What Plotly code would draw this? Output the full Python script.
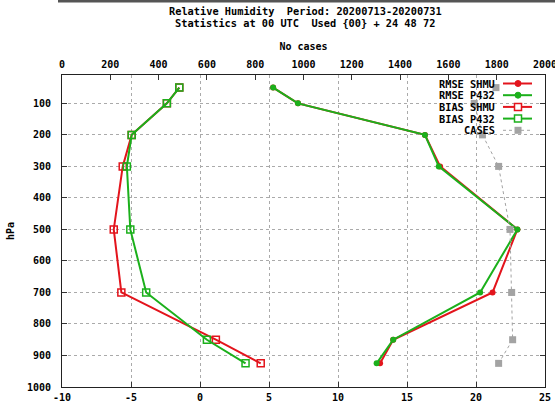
import plotly.graph_objects as go

# ---- data ----
levels = [50, 100, 200, 300, 500, 700, 850, 925]
rmse_shmu = [5.3, 7.1, 16.3, 17.4, 23.0, 21.2, 14.0, 13.05]
rmse_p432 = [5.3, 7.1, 16.3, 17.3, 23.0, 20.3, 14.0, 12.8]
bias_shmu = [-1.5, -2.4, -4.95, -5.6, -6.25, -5.7, 1.15, 4.4]
bias_p432 = [-1.5, -2.4, -4.95, -5.3, -5.05, -3.9, 0.5, 3.3]
cases = [1797, 1707, 1741, 1808, 1855, 1862, 1866, 1808]

x_ticks = [-10, -5, 0, 5, 10, 15, 20, 25]
x_ticktext = ["-10", "-5", "0", "5", "10", "15", "20", "25"]
x2_ticks = [0, 200, 400, 600, 800, 1000, 1200, 1400, 1600, 1800, 2000]
y_ticks = [100, 200, 300, 400, 500, 600, 700, 800, 900, 1000]

legend_names = ["RMSE SHMU", "RMSE P432", "BIAS SHMU", "BIAS P432", "CASES"]

RED = "#e3141c"
GREEN = "#1bb01b"
GRAY = "#a3a3a3"
FONT = "DejaVu Sans Mono"

W, H = 555, 402
L, R, T, B = 62, 10, 75, 15
PW, PH = W - L - R, H - T - B


def px(x):
    return (x - L) / PW


def py(y):
    return (H - B - y) / PH


fig = go.Figure()
fig.add_trace(go.Scatter(x=rmse_shmu, y=levels, mode="lines+markers", name=legend_names[0],
                         line=dict(color=RED, width=2), marker=dict(symbol="circle", size=6, color=RED)))
fig.add_trace(go.Scatter(x=rmse_p432, y=levels, mode="lines+markers", name=legend_names[1],
                         line=dict(color=GREEN, width=2), marker=dict(symbol="circle", size=6, color=GREEN)))
fig.add_trace(go.Scatter(x=bias_shmu, y=levels, mode="lines+markers", name=legend_names[2],
                         line=dict(color=RED, width=2),
                         marker=dict(symbol="square-open", size=7, color=RED, line=dict(width=1.5, color=RED))))
fig.add_trace(go.Scatter(x=bias_p432, y=levels, mode="lines+markers", name=legend_names[3],
                         line=dict(color=GREEN, width=2),
                         marker=dict(symbol="square-open", size=7, color=GREEN, line=dict(width=1.5, color=GREEN))))
fig.add_trace(go.Scatter(x=cases, y=levels, mode="lines+markers", name=legend_names[4], xaxis="x2",
                         line=dict(color=GRAY, width=1, dash="dot"),
                         marker=dict(symbol="square", size=7, color=GRAY)))

tickfont = dict(family=FONT, size=10, color="#000000", weight="bold")

fig.update_layout(
    width=W, height=H,
    margin=dict(l=L, r=R, t=T, b=B, autoexpand=False),
    paper_bgcolor="white", plot_bgcolor="white",
    showlegend=False,
    font=dict(family=FONT, size=10, color="black"),
    xaxis=dict(range=[-10, 25], tickvals=x_ticks, ticktext=x_ticktext, ticks="inside", ticklen=5,
               tickcolor="#333", showline=True, linecolor="#222", linewidth=1, mirror=False,
               showgrid=True, gridcolor="#aaaaaa", griddash="dot", gridwidth=1, zeroline=False,
               tickfont=tickfont, ticklabelstandoff=1, automargin=False, ticklabeloverflow="allow"),
    xaxis2=dict(range=[0, 2000], tickvals=x2_ticks, overlaying="x", side="top", ticks="inside", ticklen=5,
                tickcolor="#333", showline=True, linecolor="#222", linewidth=1, showgrid=False, zeroline=False,
                tickfont=tickfont, ticklabelstandoff=2, automargin=False, ticklabeloverflow="allow",
                title=dict(text="No cases", font=dict(family=FONT, size=10, weight="bold"), standoff=6)),
    yaxis=dict(range=[1000, 10], tickvals=y_ticks, ticks="inside", ticklen=5, tickcolor="#333",
               showline=True, linecolor="#222", linewidth=1, mirror="ticks",
               showgrid=True, gridcolor="#aaaaaa", griddash="dot", gridwidth=1, zeroline=False,
               tickfont=tickfont, ticklabelstandoff=8, automargin=False, ticklabeloverflow="allow"),
)

annotations = [
    dict(text="Relative Humidity  Period: 20200713-20200731", x=px(305), y=py(11), xref="paper", yref="paper",
         showarrow=False, xanchor="center", yanchor="middle",
         font=dict(family=FONT, size=10.3, weight="bold")),
    dict(text="Statistics at 00 UTC  Used {00} + 24 48 72", x=px(305), y=py(23), xref="paper", yref="paper",
         showarrow=False, xanchor="center", yanchor="middle",
         font=dict(family=FONT, size=10.3, weight="bold")),
    dict(text="hPa", x=px(10), y=py(231), xref="paper", yref="paper", showarrow=False, textangle=-90,
         xanchor="center", yanchor="middle", font=dict(family=FONT, size=10, weight="bold")),
]

shapes = [
    dict(type="rect", xref="paper", yref="paper", x0=px(58), x1=px(556), y0=py(0), y1=py(2.5),
         fillcolor="#555555", line=dict(width=0), layer="above"),
]

# custom legend (text left, sample right) like gnuplot
styles = [("circle", RED, "solid"), ("circle", GREEN, "solid"), ("sq_open", RED, "solid"),
          ("sq_open", GREEN, "solid"), ("sq", GRAY, "dot")]
for i, (name, (mk, col, dash)) in enumerate(zip(legend_names, styles)):
    yy = 83.5 + 11.7 * i
    annotations.append(dict(text=name, x=px(497), y=py(yy), xref="paper", yref="paper", showarrow=False,
                            xanchor="right", yanchor="middle",
                            font=dict(family=FONT, size=10.3, weight="bold")))
    shapes.append(dict(type="line", xref="paper", yref="paper", x0=px(503), x1=px(532), y0=py(yy), y1=py(yy),
                       line=dict(color=col, width=1 if dash == "dot" else 2, dash=dash)))
    cx = 518
    if mk == "circle":
        shapes.append(dict(type="circle", xref="paper", yref="paper", x0=px(cx - 3), x1=px(cx + 3),
                           y0=py(yy + 3), y1=py(yy - 3), fillcolor=col, line=dict(color=col, width=1)))
    elif mk == "sq_open":
        shapes.append(dict(type="rect", xref="paper", yref="paper", x0=px(cx - 3.5), x1=px(cx + 3.5),
                           y0=py(yy + 3.5), y1=py(yy - 3.5), fillcolor="white", line=dict(color=col, width=1.5)))
    else:
        shapes.append(dict(type="rect", xref="paper", yref="paper", x0=px(cx - 3.5), x1=px(cx + 3.5),
                           y0=py(yy + 3.5), y1=py(yy - 3.5), fillcolor=col, line=dict(color=col, width=0)))

fig.update_layout(annotations=annotations, shapes=shapes)
fig.write_html("out.html", config={"displayModeBar": False},
               post_script="document.body.style.margin='0px';")
